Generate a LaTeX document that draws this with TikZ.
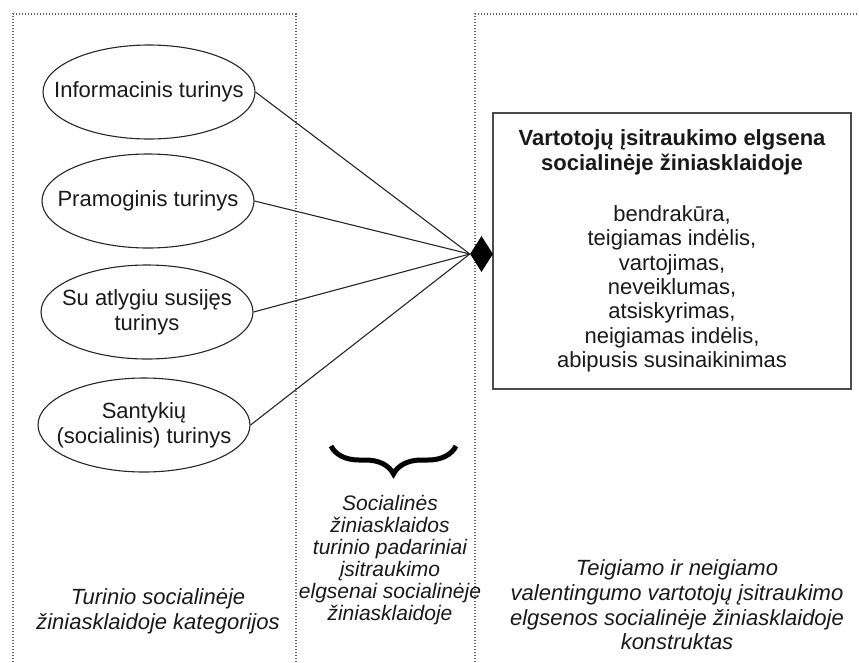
\documentclass[tikz,border=0pt]{standalone}
\usepackage{fontspec}
\setmainfont{Liberation Sans}
\usetikzlibrary{shapes.geometric,decorations.pathreplacing}
\begin{document}
\begin{tikzpicture}[x=1pt,y=-1pt,
  cat/.style={ellipse,draw=black!85,line width=1.1pt,minimum width=212pt,minimum height=94pt,inner sep=0pt},
  cattext/.style={align=center,inner sep=0pt,text=black!90,font=\fontsize{22}{25}\selectfont},
  frame/.style={draw=black!60,line width=1.3pt,dash pattern=on 1.3pt off 1.7pt},
  conn/.style={draw=black!85,line width=1.1pt},
  bigbox/.style={draw=black!70,line width=1.5pt,minimum width=358pt,minimum height=276pt,inner sep=0pt,align=center,text=black!90,font=\fontsize{22}{24.3}\selectfont},
  caption/.style={align=center,inner sep=0pt,text=black!90,font=\itshape\fontsize{22}{25}\selectfont}
]
\useasboundingbox (0,0) rectangle (859,662);
\draw[frame] (13,680) -- (13,14) -- (296,14) -- (296,680);
\draw[frame] (475,680) -- (475,14) -- (880,14);

\node[cat] (e1) at (149,92) {};
\node[cattext] (t1) at (e1.center) {Informacinis turinys};
\node[cat] (e2) at (148,201) {};
\node[cattext] (t2) at (e2.center) {Pramoginis turinys};
\node[cat] (e3) at (147,312) {};
\node[cattext] (t3) at (e3.center) {Su atlygiu susijęs\\turinys};
\node[cat] (e4) at (144,425) {};
\node[cattext] (t4) at (e4.center) {Santykių\\(socialinis) turinys};

\node[bigbox] (box) at (672,251) {{\bfseries Vartotojų įsitraukimo elgsena}\\{\bfseries socialinėje žiniasklaidoje}\\[27pt]bendrakūra,\\teigiamas indėlis,\\vartojimas,\\neveiklumas,\\atsiskyrimas,\\neigiamas indėlis,\\abipusis susinaikinimas};

\node[diamond,fill=black,minimum width=23pt,minimum height=36pt,inner sep=0pt] (dia) at (481.5,254) {};

\draw[conn] (e1.east) -- (dia.west);
\draw[conn] (e2.east) -- (dia.west);
\draw[conn] (e3.east) -- (dia.west);
\draw[conn] (e4.east) -- (dia.west);

\draw[line width=5pt,decorate,decoration={brace,amplitude=28pt,aspect=0.5}] (456,446) -- (331,446);

\node[caption] (capL) at (158,611) {Turinio socialinėje\\žiniasklaidoje kategorijos};
\node[caption,font=\itshape\fontsize{21}{22}\selectfont] (capM) at (390,560) {Socialinės\\žiniasklaidos\\turinio padariniai\\įsitraukimo\\elgsenai socialinėje\\žiniasklaidoje};
\node[caption,font=\itshape\fontsize{22}{24.7}\selectfont] (capR) at (677,605) {Teigiamo ir neigiamo\\valentingumo vartotojų įsitraukimo\\elgsenos socialinėje žiniasklaidoje\\konstruktas};
\end{tikzpicture}
\end{document}
